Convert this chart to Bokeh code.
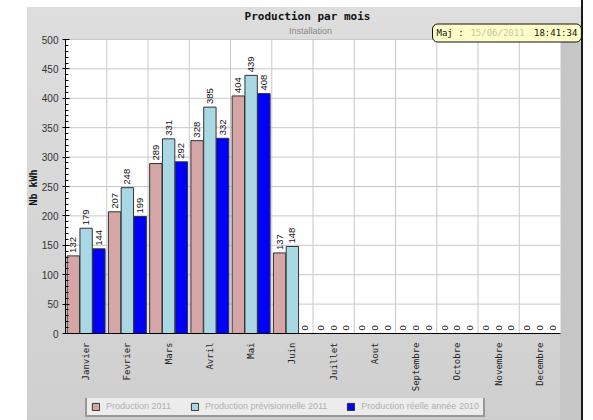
from math import pi
from bokeh.plotting import figure
from bokeh.layouts import column
from bokeh.models import (Range1d, Label, Legend, LegendItem, Title,
                          ColumnDataSource, SingleIntervalTicker, FixedTicker)
from bokeh.transform import dodge
from bokeh.core.properties import value
from bokeh.embed import file_html
from bokeh.resources import INLINE

months = ["Janvier", "Fevrier", "Mars", "Avril", "Mai", "Juin", "Juillet",
          "Aout", "Septembre", "Octobre", "Novembre", "Decembre"]
s1 = [132, 207, 289, 328, 404, 137, 0, 0, 0, 0, 0, 0]
s2 = [179, 248, 331, 385, 439, 148, 0, 0, 0, 0, 0, 0]
s3 = [144, 199, 292, 332, 408, 0, 0, 0, 0, 0, 0, 0]
series_names = ["Production 2011", "Production prévisionnelle 2011", "Production réelle année 2010"]
title_text = "Production par mois"
subtitle_text = "Installation"
maj_prefix = "Maj :"
maj_date = "15/06/2011"
maj_time = "18:41:34"
y_label = "Nb kWh"
y_max = 500
y_step = 50

colors = ["#d4a6a6", "#a9d8e4", "#0000f8"]
offsets = [-0.31, 0.0, 0.31]
n = len(months)
centers = [i + 0.5 for i in range(n)]

src = ColumnDataSource(dict(xc=centers, s1=s1, s2=s2, s3=s3,
                            l1=[str(v) for v in s1], l2=[str(v) for v in s2],
                            l3=[str(v) for v in s3]))

BG = ("linear-gradient(to right, rgba(0,0,0,0) 581px, #1a1a1a 581px), "
      "linear-gradient(#c6c6c6, #c6c6c6) 560px {top}px / 21px 500px no-repeat, "
      "linear-gradient(#ffffff, #ffffff) 0 0 / 27px 100% no-repeat, "
      "{extra}"
      "linear-gradient(to bottom, {c1}, {c2})")

# frame: x 65..583, y 0..333 (page px); y=500 at page y 39
px_per_unit_y = (333 - 39) / y_max
px_per_cat = (560 - 65) / n
p = figure(x_range=Range1d(0, (583 - 65) / px_per_cat),
           y_range=Range1d(0, 333 / px_per_unit_y),
           frame_width=518, frame_height=333,
           output_backend="svg", toolbar_location=None,
           min_border_left=65, min_border_right=0, min_border_top=0,
           min_border_bottom=65)
p.border_fill_alpha = 0
p.background_fill_alpha = 0
p.outline_line_color = None
p.styles = {"background": BG.format(top=42, extra="linear-gradient(#ffffff, #ffffff) 0 0 / 100% 7px no-repeat, ",
                                    c1="#dedede", c2="#d0d0d0")}
p.xgrid.visible = False
p.ygrid.visible = False

# plot area and grid
p.quad(left=0, right=n, bottom=0, top=y_max, fill_color="white", line_color=None)
hy = list(range(y_step, y_max + 1, y_step))
p.segment(x0=[0] * len(hy), x1=[n] * len(hy), y0=hy, y1=hy, line_color="#c8c8c8", line_width=1)
vx = list(range(1, n))
p.segment(x0=vx, x1=vx, y0=[0] * len(vx), y1=[y_max] * len(vx), line_color="#c8c8c8", line_width=1)

for k, (col, lab) in enumerate([("s1", "l1"), ("s2", "l2"), ("s3", "l3")]):
    p.vbar(x=dodge("xc", offsets[k]), top=col, width=0.3,
           source=src, fill_color=colors[k], line_color="#333333", line_width=1)
    p.text(x=dodge("xc", offsets[k]), y=col, text=lab, source=src,
           angle=pi / 2, text_align="left", text_baseline="middle", y_offset=-3,
           text_font=value("Liberation Sans"), text_font_size="9.5px", text_color="#111111")

# y axis
p.yaxis.bounds = (0, y_max)
p.yaxis.ticker = SingleIntervalTicker(interval=y_step, num_minor_ticks=5)
p.yaxis.major_tick_in = 4
p.yaxis.major_tick_out = 3
p.yaxis.minor_tick_in = 3
p.yaxis.minor_tick_out = 0
p.yaxis.axis_line_color = "black"
p.yaxis.major_tick_line_color = "black"
p.yaxis.minor_tick_line_color = "black"
p.yaxis.major_label_text_font = "Liberation Sans"
p.yaxis.major_label_text_font_size = "10px"
p.yaxis.major_label_text_color = "#333333"
p.yaxis.major_label_standoff = 4
p.add_layout(Title(text=y_label, align="left", offset=128, standoff=0,
                   text_font="DejaVu Sans Mono", text_font_style="bold",
                   text_font_size="10px", text_color="#111111"), "left")

# x axis
p.xaxis.bounds = (0, n)
p.xaxis.ticker = FixedTicker(ticks=centers)
p.xaxis.major_label_overrides = {c: m for c, m in zip(centers, months)}
p.xaxis.axis_line_color = "black"
p.xaxis.major_tick_line_color = None
p.xaxis.major_tick_out = 0
p.xaxis.major_tick_in = 0
p.xaxis.minor_tick_line_color = None
p.xaxis.major_label_orientation = pi / 2
p.xaxis.major_label_standoff = 9
p.xaxis.major_label_text_font = "DejaVu Sans Mono"
p.xaxis.major_label_text_font_size = "9px"
p.xaxis.major_label_text_color = "#222222"

# titles (inside the extended frame; screen units from frame bottom-left)
nb = "\u00a0"
p.add_layout(Label(x=242, y=317, x_units="screen", y_units="screen", text=title_text,
                   text_align="center", text_baseline="middle",
                   text_font="DejaVu Sans Mono", text_font_style="bold",
                   text_font_size="11px", text_color="#111111"))
p.add_layout(Label(x=245, y=303, x_units="screen", y_units="screen", text=subtitle_text,
                   text_align="center", text_baseline="middle",
                   text_font="Liberation Sans", text_font_size="9px", text_color="#8a8a8a"))
p.add_layout(Label(x=367, y=300.5, x_units="screen", y_units="screen",
                   text=maj_prefix + nb * 13 + maj_time,
                   text_align="left", text_baseline="middle",
                   text_font="DejaVu Sans Mono", text_font_size="9px", text_color="#111111",
                   background_fill_color="#fdfdc8", border_line_color="#111111",
                   border_line_width=1, padding=4, border_radius=5))
p.add_layout(Label(x=367 + 7 * 5.42, y=300.5, x_units="screen", y_units="screen",
                   text=maj_date, text_align="left", text_baseline="middle",
                   text_font="DejaVu Sans Mono", text_font_size="9px", text_color="#c8c8a4"))

# legend strip (its own small figure below the chart; its bars fall outside its view)
lf = figure(width=583, height=24, x_range=Range1d(0, 1), y_range=Range1d(-2, -1),
            output_backend="svg", toolbar_location=None,
            x_axis_location=None, y_axis_location=None,
            min_border_left=0, min_border_right=0, min_border_top=0, min_border_bottom=0)
lf.border_fill_alpha = 0
lf.background_fill_alpha = 0
lf.outline_line_color = None
lf.grid.visible = False
lf.styles = {"background": BG.format(top=0, extra="", c1="#d0d0d0", c2="#cecece")}
leg_renderers = [lf.vbar(x="xc", top=col, width=0.3, source=src,
                         fill_color=colors[k], line_color="#333333")
                 for k, col in enumerate(["s1", "s2", "s3"])]
legend = Legend(items=[LegendItem(label=series_names[i], renderers=[leg_renderers[i]]) for i in range(3)],
                orientation="horizontal", location=(20, 5),
                border_line_color="#444444", border_line_width=2,
                background_fill_color="#ececec", background_fill_alpha=1,
                label_text_font="Liberation Sans", label_text_font_size="9px",
                label_text_color="#b0b0b0", glyph_width=9, glyph_height=9,
                label_height=9, label_standoff=6, spacing=19, padding=4, margin=0)
lf.add_layout(legend)

layout = column(p, lf, spacing=0)
open("out.html", "w").write(file_html(layout, INLINE))
